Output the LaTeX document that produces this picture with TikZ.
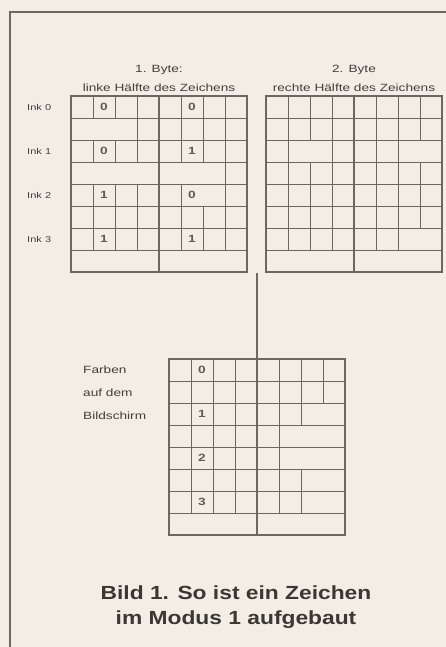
\documentclass[tikz,border=0pt]{standalone}
\usepackage{fontspec}
\setmainfont{Liberation Sans}
\newfontfamily\lblfont[FakeStretch=1.3]{Liberation Sans}
\newfontfamily\capfont[FakeStretch=1.2]{Liberation Sans}
\definecolor{paper}{RGB}{243,238,229}
\definecolor{ink}{RGB}{108,103,97}
\definecolor{txt}{RGB}{66,62,58}

\begin{document}
\begin{tikzpicture}[x=1pt,y=-1pt,
  lbl/.style={font=\lblfont\fontsize{10.5}{12}\selectfont, text=txt, inner sep=0pt},
  inklbl/.style={font=\lblfont\fontsize{8.5}{10}\selectfont, text=txt, inner sep=0pt, anchor=west},
  bit/.style={font=\lblfont\bfseries\fontsize{10.5}{12}\selectfont, text=txt!85, inner sep=0pt},
  capline/.style={font=\capfont\bfseries\fontsize{19}{22}\selectfont, text=txt!90!black, inner sep=0pt},
  fine/.style={draw=ink, line width=0.8pt},
  heavy/.style={draw=ink, line width=1.7pt}]
  \fill[paper] (0,0) rectangle (446,647);
  \useasboundingbox (0,0) rectangle (446,647);
  % page frame
  \draw[heavy] (446,12) -- (10,12) -- (10,647);

  % 1. Byte
  \node[lbl] (byteA) at (159,70) {1. Byte:};
  \node[lbl] (halfA) at (159,88) {linke Hälfte des Zeichens};
  \foreach \r in {1,...,7}
    \draw[fine] (71,96+22*\r) -- (247,96+22*\r);
  \foreach \r/\cols in {1/{1,2,3,5,6,7}, 2/{3,5,6,7}, 3/{1,2,3,5,6,7}, 4/{7},
                        5/{1,2,3,5,7}, 6/{1,2,3,5,6,7}, 7/{1,2,3,5,6,7}}
    \foreach \c in \cols
      \draw[fine] (71+22*\c,74+22*\r) -- (71+22*\c,96+22*\r);
  \draw[ink, line width=1.2pt] (159,96) -- (159,272);
  \draw[heavy] (71,96) rectangle (247,272);
  \node[bit] (a00) at (104,107) {0};
  \node[bit] (a01) at (192,107) {0};
  \node[bit] (a10) at (104,151) {0};
  \node[bit] (a11) at (192,151) {1};
  \node[bit] (a20) at (104,195) {1};
  \node[bit] (a21) at (192,195) {0};
  \node[bit] (a30) at (104,239) {1};
  \node[bit] (a31) at (192,239) {1};

  % Ink rows
  \node[inklbl] (ink0) at (27,107) {Ink 0};
  \node[inklbl] (ink1) at (27,151) {Ink 1};
  \node[inklbl] (ink2) at (27,195) {Ink 2};
  \node[inklbl] (ink3) at (27,239) {Ink 3};

  % 2. Byte
  \node[lbl] (byteB) at (354,70) {2. Byte};
  \node[lbl] (halfB) at (354,88) {rechte Hälfte des Zeichens};
  \foreach \r in {1,...,7}
    \draw[fine] (266,96+22*\r) -- (442,96+22*\r);
  \foreach \r/\cols in {1/{1,2,3,5,6,7}, 2/{1,2,3,5,6,7}, 3/{1,3,5,6}, 4/{1,2,3,5,6,7},
                        5/{1,2,3,5,6,7}, 6/{1,2,3,5,6,7}, 7/{1,2,3,5,6}}
    \foreach \c in \cols
      \draw[fine] (266+22*\c,74+22*\r) -- (266+22*\c,96+22*\r);
  \draw[ink, line width=1.2pt] (354,96) -- (354,272);
  \draw[heavy] (266,96) rectangle (442,272);

  % colours on screen
  \node[lbl, anchor=west] (farben) at (83,370) {Farben};
  \node[lbl, anchor=west] (aufdem) at (83,393) {auf dem};
  \node[lbl, anchor=west] (schirm) at (83,416) {Bildschirm};
  \foreach \r in {1,...,7}
    \draw[fine] (169,359+22*\r) -- (345,359+22*\r);
  \foreach \r/\cols in {1/{1,2,3,5,6,7}, 2/{1,2,3,5,6,7}, 3/{1,2,3,5,6}, 4/{1,2,3,5},
                        5/{1,2,3,5}, 6/{1,2,3,5,6}, 7/{1,2,3,5,6}}
    \foreach \c in \cols
      \draw[fine] (169+22*\c,337+22*\r) -- (169+22*\c,359+22*\r);
  \coordinate (stem) at (257,273);
  \coordinate (gridtop) at (257,359);
  \coordinate (gridbot) at (257,535);
  \draw[ink, line width=1.2pt] (stem) -- (gridtop) -- (gridbot);
  \draw[heavy] (169,359) rectangle (345,535);
  \node[bit] (c0) at (202,370) {0};
  \node[bit] (c1) at (202,414) {1};
  \node[bit] (c2) at (202,458) {2};
  \node[bit] (c3) at (202,502) {3};

  % caption
  \node[capline] (capA) at (236,593) {Bild 1. So ist ein Zeichen};
  \node[capline] (capB) at (236,620) {im Modus 1 aufgebaut};
\end{tikzpicture}
\end{document}
